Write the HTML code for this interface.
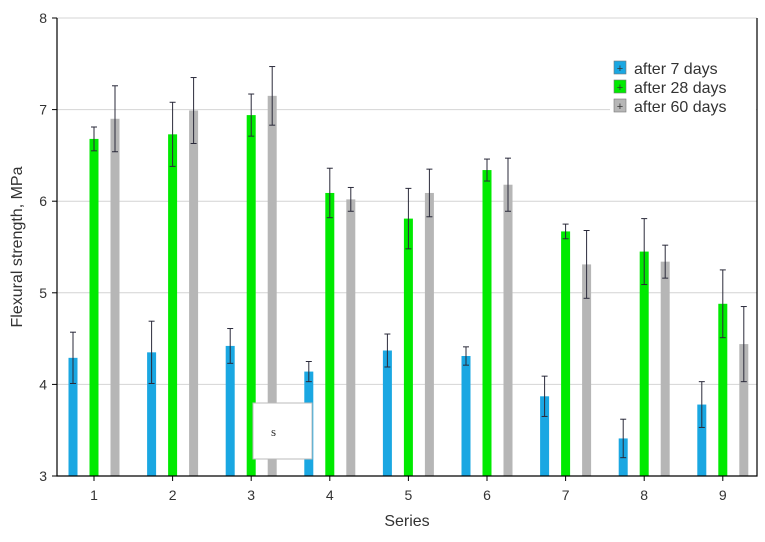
<!DOCTYPE html>
<html><head><meta charset="utf-8"><style>
body{margin:0;background:#fff;}
svg text{font-family:"Liberation Sans",Arial,sans-serif;fill:#333;}
</style></head><body>
<svg id="chart" width="765" height="537"></svg>
<script>
const categories=["1","2","3","4","5","6","7","8","9"];
const seriesNames=["after 7 days","after 28 days","after 60 days"];
const v7=[4.29,4.35,4.42,4.14,4.37,4.31,3.87,3.41,3.78];
const e7=[0.28,0.34,0.19,0.11,0.18,0.10,0.22,0.21,0.25];
const v28=[6.68,6.73,6.94,6.09,5.81,6.34,5.67,5.45,4.88];
const e28=[0.13,0.35,0.23,0.27,0.33,0.12,0.08,0.36,0.37];
const v60=[6.90,6.99,7.15,6.02,6.09,6.18,5.31,5.34,4.44];
const e60=[0.36,0.36,0.32,0.13,0.26,0.29,0.37,0.18,0.41];
const yTicks=[3,4,5,6,7,8];
const svg=document.getElementById('chart');
const NS='http://www.w3.org/2000/svg';
function el(t,a,p){const e=document.createElementNS(NS,t);for(const k in a)e.setAttribute(k,a[k]);(p||svg).appendChild(e);return e;}
const L=57,R=757,T=18,B=476;
const y=v=>B-(v-3)*(B-T)/5;
const x=i=>94+i*78.6;
// grid
yTicks.forEach(t=>{
 if(t>3){const g=el('line',{x1:L,x2:R,y1:y(t),y2:y(t),stroke:'#d4d4d4','stroke-width':1});
 
 }
 const tk=el('line',{x1:L-5,x2:L,y1:y(t),y2:y(t),stroke:'#000'});
 
 
 const tx=el('text',{x:L-10,y:y(t)+5,'text-anchor':'end','font-size':14});tx.textContent=t;
 
 
});
const colors=['#1aa7e2','#00ea00','#b6b6b6'];
const vals=[v7,v28,v60],errs=[e7,e28,e60],offs=[-21,0,21];
categories.forEach((c,i)=>{
 const tk=el('line',{x1:x(i),x2:x(i),y1:B,y2:B+5,stroke:'#000'});
 
 
 const tx=el('text',{x:x(i),y:B+24,'text-anchor':'middle','font-size':14});tx.textContent=c;
 
 
 for(let s=0;s<3;s++){
  const cx=x(i)+offs[s],v=vals[s][i],e=errs[s][i];
  const r=el('rect',{x:cx-4.5,y:y(v),width:9,height:B-y(v),fill:colors[s]});
  
  
  const g=el('g',{stroke:'#2a2a3a','stroke-width':1});
  
  
  el('line',{x1:cx,x2:cx,y1:y(v+e),y2:y(v-e)},g);
  el('line',{x1:cx-3,x2:cx+3,y1:y(v+e),y2:y(v+e)},g);
  el('line',{x1:cx-3,x2:cx+3,y1:y(v-e),y2:y(v-e)},g);
 }
});
const ax=el('path',{d:`M${L},${T} V${B} H${R} V${T}`,fill:'none',stroke:'#000','stroke-width':1.2});


const yt=el('text',{x:0,y:0,'text-anchor':'middle','font-size':16,transform:`translate(22,${(T+B)/2}) rotate(-90)`});yt.textContent='Flexural strength, MPa';


const xt=el('text',{x:(L+R)/2,y:526,'text-anchor':'middle','font-size':16});xt.textContent='Series';


// legend
const lg=el('g',{});


const lbg=el('rect',{x:610,y:55,width:146,height:66,fill:'#fff'},lg);
seriesNames.forEach((n,s)=>{
 const yy=68+s*19;
 const g=el('g',{},lg);
 
 
 el('rect',{x:614,y:yy-7,width:12,height:13,fill:colors[s],stroke:'#777','stroke-width':0.6},g);
 el('text',{x:620,y:yy+4,'text-anchor':'middle','font-size':11}, g).textContent='+';
 const t=el('text',{x:634,y:yy+6,'font-size':16},g);t.textContent=n;
});
// stray annotation box
const sb=el('rect',{x:253,y:403,width:59,height:56,fill:'#fff',stroke:'#bbb','stroke-width':1});


const st=el('text',{x:271,y:436,'font-size':13,style:'font-family:"Liberation Serif",serif'});st.textContent='s';


</script>
</body></html>
